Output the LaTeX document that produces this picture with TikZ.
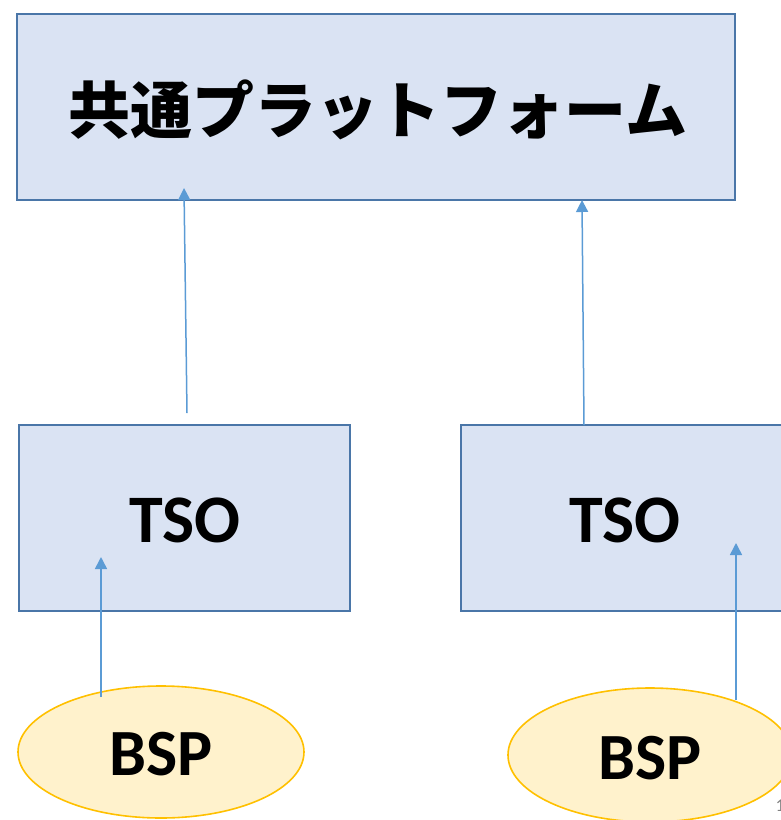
\documentclass[tikz,border=0pt]{standalone}
\usepackage{fontspec}
\setmainfont{Carlito}
\newfontfamily\jpfont{Noto Sans CJK JP}
\usetikzlibrary{arrows.meta,shapes.geometric}
\definecolor{boxfill}{HTML}{DAE3F3}
\definecolor{boxline}{HTML}{4A76A8}
\definecolor{ellfill}{HTML}{FFF2CC}
\definecolor{ellline}{HTML}{FFC000}
\definecolor{arrcol}{HTML}{5B9BD5}
\tikzset{
  boxnode/.style={draw=boxline,fill=boxfill,line width=1.5pt,inner sep=0pt},
  ellnode/.style={draw=ellline,fill=ellfill,line width=1.6pt,ellipse,inner sep=0pt},
  conn/.style={draw=arrcol,line width=1.5pt,-{Triangle[width=12pt,length=12pt]}},
  lbl/.style={font=\bfseries\fontsize{68}{70}\selectfont}
}
\begin{document}
\begin{tikzpicture}[x=1pt,y=-1pt]
\useasboundingbox (0,0) rectangle (780,820);
\node[boxnode,minimum width=718pt,minimum height=186pt] (top) at (376,107) {};
\node[font=\jpfont\bfseries\fontsize{62}{64}\selectfont] (toptxt) at (378,110) {共通プラットフォーム};
\node[boxnode,minimum width=331pt,minimum height=186pt] (tsoL) at (184.5,518) {};
\node[lbl] (tsoLt) at (185,520) {TSO};
\node[boxnode,minimum width=340pt,minimum height=186pt] (tsoR) at (631,518) {};
\node[lbl] (tsoRt) at (625,520) {TSO};
\node[ellnode,minimum width=286pt,minimum height=132pt] (bspL) at (161,752) {};
\node[lbl,font=\bfseries\fontsize{66}{68}\selectfont] (bspLt) at (161,754) {BSP};
\node[ellnode,minimum width=284pt,minimum height=134pt] (bspR) at (650,755) {};
\node[lbl,font=\bfseries\fontsize{66}{68}\selectfont] (bspRt) at (650,758) {BSP};
\node[text=gray,font=\fontsize{18}{20}\selectfont,anchor=west] (pg) at (772,806) {1};
\coordinate (a1s) at (187,413); \coordinate (a1e) at (184,188);
\coordinate (a2s) at (584,425); \coordinate (a2e) at (582,200);
\coordinate (a3s) at (101,697); \coordinate (a3e) at (101,557);
\coordinate (a4s) at (736,700); \coordinate (a4e) at (736,543);
\draw[conn] (a1s) -- (a1e);
\draw[conn] (a2s) -- (a2e);
\draw[conn] (a3s) -- (a3e);
\draw[conn] (a4s) -- (a4e);
\end{tikzpicture}
\end{document}
